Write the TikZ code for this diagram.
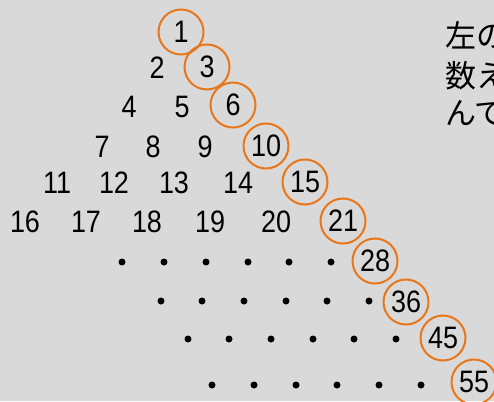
\documentclass[tikz,border=0pt]{standalone}
\usepackage{graphicx}
\usepackage{fontspec}
\setmainfont{Liberation Sans}
\newfontfamily\jpfont{Noto Sans CJK JP}
\definecolor{bgc}{RGB}{217,217,217}
\definecolor{orc}{RGB}{232,119,28}
\newcommand\nmtext[1]{\scalebox{0.87}[1]{#1}}
\begin{document}
\begin{tikzpicture}[x=1pt,y=-1pt,
  num/.style={inner sep=0pt,font=\fontsize{31}{34}\selectfont},
  circnum/.style={num,circle,draw=orc,line width=2pt,minimum size=45pt},
  jp/.style={anchor=west,inner sep=0pt,font=\jpfont\fontsize{31}{34}\selectfont},
  dotc/.style={fill=black,circle,inner sep=0pt,minimum size=7pt}]
\fill[bgc] (0,0) rectangle (494,401);
\useasboundingbox (0,0) rectangle (494,401);
\clip (0,0) rectangle (494,401);
% row 1
\node[circnum] (n1) at (181,32) {\nmtext{1}};
% row 2
\node[num] (n2) at (157,68) {\nmtext{2}};
\node[circnum] (n3) at (207,67) {\nmtext{3}};
% row 3
\node[num] (n4) at (129,107) {\nmtext{4}};
\node[num] (n5) at (182,107) {\nmtext{5}};
\node[circnum] (n6) at (233,105) {\nmtext{6}};
% row 4
\node[num] (n7) at (102,147) {\nmtext{7}};
\node[num] (n8) at (153,147) {\nmtext{8}};
\node[num] (n9) at (205,147) {\nmtext{9}};
\node[circnum] (n10) at (266,146) {\nmtext{10}};
% row 5
\node[num] (n11) at (57,183) {\nmtext{11}};
\node[num] (n12) at (114,183) {\nmtext{12}};
\node[num] (n13) at (174,183) {\nmtext{13}};
\node[num] (n14) at (238,183) {\nmtext{14}};
\node[circnum] (n15) at (305,182) {\nmtext{15}};
% row 6
\node[num] (n16) at (25,222) {\nmtext{16}};
\node[num] (n17) at (86,222) {\nmtext{17}};
\node[num] (n18) at (147,222) {\nmtext{18}};
\node[num] (n19) at (210,222) {\nmtext{19}};
\node[num] (n20) at (276,222) {\nmtext{20}};
\node[circnum] (n21) at (343,221) {\nmtext{21}};
% row 7
\foreach \i/\x in {1/122,2/164,3/206,4/248,5/289,6/331}
  \node[dotc] (d7\i) at (\x,262) {};
\node[circnum] (n28) at (375,261) {\nmtext{28}};
% row 8
\foreach \i/\x in {1/161,2/202,3/244,4/286,5/327,6/369}
  \node[dotc] (d8\i) at (\x,301) {};
\node[circnum] (n36) at (406,302) {\nmtext{36}};
% row 9
\foreach \i/\x in {1/188,2/229,3/271,4/313,5/354,6/396}
  \node[dotc] (d9\i) at (\x,339) {};
\node[circnum] (n45) at (443,338) {\nmtext{45}};
% row 10
\foreach \i/\x in {1/212,2/254,3/296,4/337,5/379,6/421}
  \node[dotc] (d10\i) at (\x,385) {};
\node[circnum] (n55) at (474,382) {\nmtext{55}};
% side text (cut off at right edge, as in the reference)
\node[jp] (t1) at (445,35) {左の};
\node[jp] (t2) at (445,76) {数え};
\node[jp] (t3) at (445,113) {んで};
\end{tikzpicture}
\end{document}
